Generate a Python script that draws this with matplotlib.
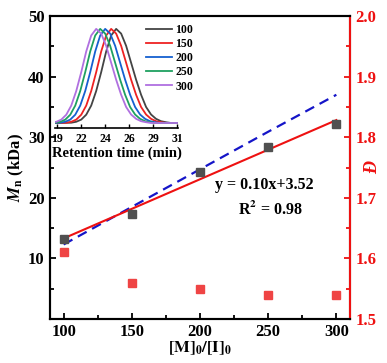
import numpy as np
import matplotlib
matplotlib.use("Agg")
import matplotlib.pyplot as plt
from matplotlib.ticker import MultipleLocator

plt.rcParams['font.family'] = ['Liberation Serif', 'DejaVu Serif']
plt.rcParams['font.weight'] = 'bold'
plt.rcParams['mathtext.fontset'] = 'stix'

# ---- data ----
ratio = [100, 150, 200, 250, 300]
mn_exp = [13.2, 17.4, 24.2, 28.4, 32.1]
mn_theo = [12.3, 18.5, 24.7, 30.9, 37.0]
dispersity = [1.61, 1.56, 1.55, 1.54, 1.54]

gpc_labels = ['100', '150', '200', '250', '300']
gpc_colors = ['#444444', '#ee2222', '#1560d0', '#1fa060', '#b070e0']
gpc_peaks = [24.9, 24.4, 23.8, 23.3, 22.9]
# common elution profile (offset from peak, normalised intensity)
prof_offset = [-6.0, -4.5, -4.0, -3.5, -3.0, -2.5, -2.0, -1.5, -1.0, -0.5, 0.0,
               0.5, 1.0, 1.5, 2.0, 2.5, 3.0, 3.5, 4.0, 4.5, 5.0, 5.5, 8.5]
prof_int = [0.0, 0.003, 0.013, 0.036, 0.088, 0.185, 0.34, 0.54, 0.76, 0.93, 1.0,
            0.95, 0.82, 0.64, 0.46, 0.30, 0.17, 0.09, 0.044, 0.019, 0.008, 0.0, 0.0]
inset_ticks = [19.0, 21.4, 23.8, 26.2, 28.6, 31.0]
inset_ticklabels = ['19', '22', '24', '26', '29', '31']

fig = plt.figure(figsize=(3.87, 3.63), dpi=100)
ax = fig.add_axes([50/387, 1-319/363, 300/387, 303/363])
ax2 = ax.twinx()

# fits
coef = np.polyfit(ratio, mn_exp, 1)
xr = np.array([ratio[0], ratio[-1]])
ax.plot(ratio, mn_theo, color='#1515c8', lw=1.6, dashes=(4.5, 2.8), zorder=3)
ax.plot(xr, np.polyval(coef, xr), color='#ee1111', lw=1.5, zorder=4)
ax.plot(ratio, mn_exp, 's', color='#505050', ms=5.5, zorder=5)
ax2.plot(ratio, dispersity, 's', color='#ef4444', ms=5.5)

ax.set_xlim(90, 310)
ax.set_ylim(0, 50)
ax2.set_ylim(1.5, 2.0)
ax.set_xticks([100, 150, 200, 250, 300])
ax.xaxis.set_minor_locator(MultipleLocator(25))
ax.set_yticks([10, 20, 30, 40, 50])
ax.yaxis.set_minor_locator(MultipleLocator(5))
ax2.set_yticks([1.5, 1.6, 1.7, 1.8, 1.9, 2.0])
ax2.yaxis.set_minor_locator(MultipleLocator(0.05))
ax2.set_yticklabels(['1.5', '1.6', '1.7', '1.8', '1.9', '2.0'])

for a in (ax, ax2):
    for s in a.spines.values():
        s.set_linewidth(1.5)
ax.tick_params(which='both', direction='in', width=1.3, labelsize=12, top=False, right=False)
ax.tick_params(which='major', length=4)
ax.tick_params(which='minor', length=3)
ax.tick_params(axis='y', pad=4)
ax2.tick_params(which='both', direction='in', width=1.3, colors='#ee1111', labelsize=12, pad=4)
ax2.tick_params(which='major', length=4)
ax2.tick_params(which='minor', length=3)
ax2.spines['right'].set_color('#ee1111')
for lab in ax.get_xticklabels() + ax.get_yticklabels() + ax2.get_yticklabels():
    lab.set_fontweight('bold')

ax.set_xlabel(r'$\mathbf{[M]_0/[I]_0}$', fontsize=12, labelpad=0)
ax.set_ylabel(r'$\boldsymbol{M}_\mathbf{n}$ (kDa)', fontsize=12, fontweight='bold', labelpad=1)
fig.text(373/387, 1-167/363, 'Đ', fontsize=13, color='#ee1111', fontstyle='italic',
         fontweight='bold', rotation=90, ha='center', va='center')

ax.text(247, 22.1, 'y = 0.10x+3.52', fontsize=11.5, fontweight='bold', ha='center', va='center')
ax.text(252, 18.0, r'R$^\mathbf{2}$ = 0.98', fontsize=11.5, fontweight='bold', ha='center', va='center')

# inset
ins = fig.add_axes([55/387, 1-127.7/363, 123/387, 100.7/363])
ins.patch.set_alpha(0)
for lab, col, pk in zip(gpc_labels, gpc_colors, gpc_peaks):
    xs = [pk + o for o in prof_offset]
    ins.plot(xs, prof_int, color=col, lw=1.3, label=lab)
ins.set_xlim(18.77, 31.1)
ins.set_ylim(-0.05, 1.02)
for s in ['left', 'right', 'top']:
    ins.spines[s].set_visible(False)
ins.spines['bottom'].set_linewidth(1.2)
ins.set_yticks([])
ins.set_xticks(inset_ticks)
ins.set_xticklabels(inset_ticklabels)
ins.tick_params(axis='x', direction='in', length=3, width=1, labelsize=8.5, pad=3.5)
for lab in ins.get_xticklabels():
    lab.set_fontweight('bold')
ins.set_xlabel('Retention time (min)', fontsize=10.5, fontweight='bold', labelpad=1.5)
leg = ins.legend(loc='upper left', bbox_to_anchor=(146/387, 1-24/363), bbox_transform=fig.transFigure,
                 frameon=False, fontsize=8.5, handlelength=2.2, handletextpad=0.3,
                 labelspacing=0.18, borderpad=0, borderaxespad=0)
for t in leg.get_texts():
    t.set_fontweight('bold')

fig.savefig('out.png', dpi=100)
